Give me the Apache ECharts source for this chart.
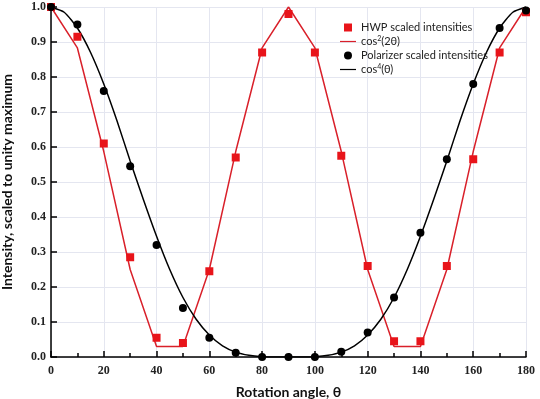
<!DOCTYPE html>
<html><head><meta charset="utf-8">
<script src="https://cdn.jsdelivr.net/npm/echarts@6/dist/echarts.min.js"></script>
<style>html,body{margin:0;padding:0;background:#fff}#c{width:540px;height:399px}</style>
</head><body><div id="c"></div>
<script>
const angles = [0,10,20,30,40,50,60,70,80,90,100,110,120,130,140,150,160,170,180];
const hwpPoints = [1.0,0.915,0.61,0.285,0.055,0.04,0.245,0.57,0.87,0.98,0.87,0.575,0.26,0.045,0.045,0.26,0.565,0.87,0.985];
const cos2Line = [1.0,0.883,0.587,0.25,0.03,0.03,0.25,0.587,0.883,1.0,0.883,0.587,0.25,0.03,0.03,0.25,0.587,0.883,1.0];
const polPoints = [1.0,0.95,0.76,0.545,0.32,0.14,0.055,0.012,0.0,0.0,0.0,0.015,0.07,0.17,0.355,0.565,0.78,0.94,0.99];
const curveAngles = [0,5,10,15,20,25,30,35,40,45,50,55,60,65,70,75,80,85,90,95,100,105,110,115,120,125,130,135,140,145,150,155,160,165,170,175,180];
const cos4Line = [1.0,0.985,0.94,0.87,0.78,0.675,0.56,0.45,0.345,0.25,0.17,0.108,0.063,0.032,0.014,0.005,0.001,0.0,0.0,0.0,0.001,0.005,0.014,0.032,0.063,0.108,0.17,0.25,0.345,0.45,0.56,0.675,0.78,0.87,0.94,0.985,1.0];
const xTicks = [0,20,40,60,80,100,120,140,160,180];

const pair = (xs, ys) => xs.map((a,i)=>[a,ys[i]]);
const chart = echarts.init(document.getElementById('c'));
chart.setOption({
  animation:false,
  grid:{left:51,right:14,top:7,bottom:42,outerBoundsMode:'none',containLabel:false},
  legend:{
    orient:'vertical', left:335, top:16, itemGap:1, itemWidth:16, itemHeight:8,
    textStyle:{fontFamily:'Lato',fontSize:11,color:'#222',lineHeight:13,
      rich:{s:{fontSize:7,verticalAlign:'top',lineHeight:8,padding:[0,0,6,0],fontFamily:'Lato'}}},
    formatter:function(n){
      if(n==='cos2') return 'cos{s|2}(2θ)';
      if(n==='cos4') return 'cos{s|4}(θ)';
      return n;
    },
    data:[
      {name:'HWP scaled intensities',icon:'path://M4,0 L12,0 L12,8 L4,8 Z',itemStyle:{color:'#e8141a',opacity:1}},
      {name:'cos2',icon:'path://M0,3.4 L16,3.4 L16,4.6 L0,4.6 Z',itemStyle:{color:'#d9202a'}},
      {name:'Polarizer scaled intensities',icon:'path://M8,0 A4,4 0 1,1 7.99,0 Z M0,8 L16,8',itemStyle:{color:'#000',opacity:1}},
      {name:'cos4',icon:'path://M0,3.4 L16,3.4 L16,4.6 L0,4.6 Z',itemStyle:{color:'#000'}}
    ]
  },
  xAxis:{
    type:'value',min:0,max:180,interval:20,
    name:'Rotation angle, θ',nameLocation:'middle',nameGap:28,
    nameTextStyle:{fontFamily:'Lato',fontWeight:'bold',fontSize:14,color:'#111'},
    axisLine:{show:true,lineStyle:{color:'#000',width:1.5}},
    axisTick:{show:true,inside:true,length:6,lineStyle:{color:'#000',width:1.5}},
    minorTick:{show:true,splitNumber:2,length:4,lineStyle:{color:'#000',width:1.5}},
    axisLabel:{fontFamily:'Liberation Serif',fontWeight:'bold',fontSize:12,color:'#222',margin:8},
    splitLine:{show:true,lineStyle:{color:'#e4e6f0',width:1}}
  },
  yAxis:{
    type:'value',min:0,max:1,interval:0.1,
    name:'Intensity, scaled to unity maximum',nameLocation:'middle',nameGap:37,
    nameTextStyle:{fontFamily:'Lato',fontWeight:'bold',fontSize:14,color:'#111'},
    axisLine:{show:true,lineStyle:{color:'#000',width:1.5}},
    axisTick:{show:true,inside:true,length:6,lineStyle:{color:'#000',width:1.5}},
    axisLabel:{fontFamily:'Liberation Serif',fontWeight:'bold',fontSize:12,color:'#222',margin:5,
      formatter:v=>v.toFixed(1)},
    splitLine:{show:true,lineStyle:{color:'#e4e6f0',width:1}}
  },
  series:[
    {name:'cos2',type:'line',data:pair(angles,cos2Line),showSymbol:false,symbol:'none',
      lineStyle:{color:'#d9202a',width:1.5},itemStyle:{color:'#d9202a'},z:2},
    {name:'cos4',type:'line',data:pair(curveAngles,cos4Line),smooth:0.2,showSymbol:false,symbol:'none',
      lineStyle:{color:'#000',width:1.5},itemStyle:{color:'#000'},z:2},
    {name:'HWP scaled intensities',type:'scatter',data:pair(angles,hwpPoints),symbol:'rect',symbolSize:8,
      itemStyle:{color:'#e8141a',opacity:1},z:3},
    {name:'Polarizer scaled intensities',type:'scatter',data:pair(angles,polPoints),symbol:'circle',symbolSize:8,
      itemStyle:{color:'#000',opacity:1},z:3}
  ]
});
</script></body></html>
